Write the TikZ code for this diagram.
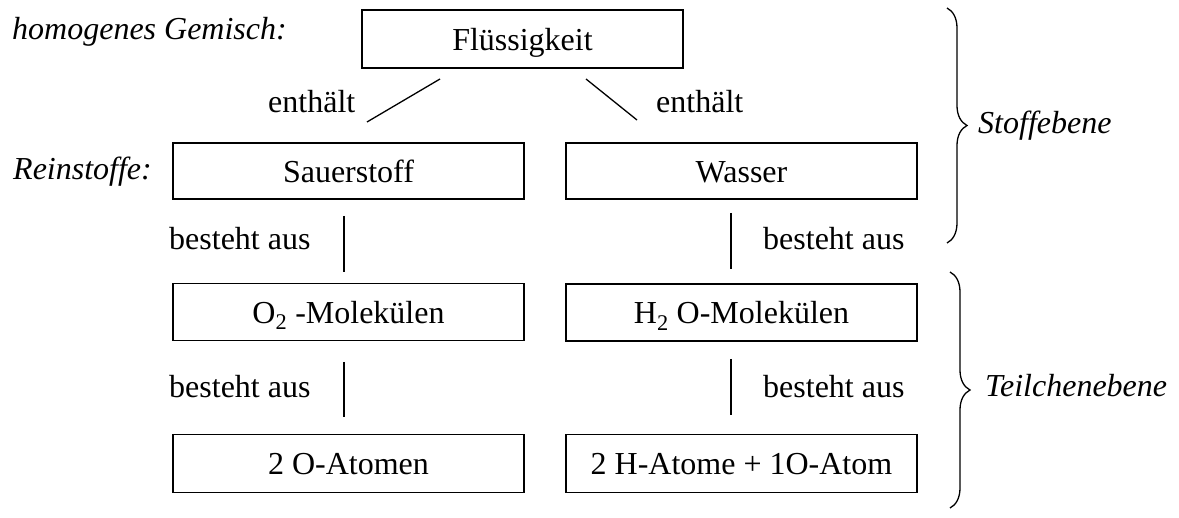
\documentclass[tikz,border=0pt]{standalone}
\usepackage{fontspec}
\setmainfont{Liberation Serif}
\usetikzlibrary{decorations.pathreplacing}
\begin{document}
\begin{tikzpicture}[x=1pt,y=-1pt,
  every node/.style={font=\fontsize{32}{38}\selectfont},
  box/.style={draw,line width=1.3pt,minimum width=351pt,minimum height=57pt,inner sep=0pt,text height=23pt,text depth=0pt},
  lbl/.style={inner sep=0pt,anchor=base west},
  ilbl/.style={inner sep=0pt,anchor=base west,font=\fontsize{32}{38}\selectfont\itshape},
  conn/.style={line width=1.3pt},
  brc/.style={line width=1.3pt,decorate,decoration={brace,amplitude=20pt,aspect=0.5}}]
\useasboundingbox (0,0) rectangle (1179,518);
% boxes
\node[box,minimum width=321pt,minimum height=58pt] (fl) at (522.5,39) {Flüssigkeit};
\node[box,minimum height=56pt] (sa) at (348.5,171) {Sauerstoff};
\node[box,minimum height=56pt] (wa) at (741.5,171) {Wasser};
\node[box] (om) at (348.5,312) {O\textsubscript{2} -Molekülen};
\node[box] (hm) at (741.5,312.5) {H\textsubscript{2} O-Molekülen};
\node[box,minimum height=58pt] (oa) at (348.5,463.5) {2 O-Atomen};
\node[box,minimum height=58pt] (ha) at (741.5,463.5) {2 H-Atome + 1O-Atom};
% side labels
\node[ilbl] (hg) at (12,40) {homogenes Gemisch:};
\node[ilbl] (rs) at (13,180) {Reinstoffe:};
\node[ilbl] (st) at (978,134) {Stoffebene};
\node[ilbl] (te) at (985,397) {Teilchenebene};
% connector labels
\node[lbl] (e1) at (268,113) {enthält};
\node[lbl] (e2) at (656,113) {enthält};
\node[lbl] (b1) at (169,250) {besteht aus};
\node[lbl] (b2) at (763,250) {besteht aus};
\node[lbl] (b3) at (169,398) {besteht aus};
\node[lbl] (b4) at (763,398) {besteht aus};
% connector end points
\coordinate (c1a) at (440,79);  \coordinate (c1b) at (367,122);
\coordinate (c2a) at (586,79);  \coordinate (c2b) at (637,120);
\coordinate (c3a) at (344,216); \coordinate (c3b) at (344,272);
\coordinate (c4a) at (731,213); \coordinate (c4b) at (731,269);
\coordinate (c5a) at (344,362); \coordinate (c5b) at (344,417);
\coordinate (c6a) at (731,359); \coordinate (c6b) at (731,415);
\draw[conn] (c1a) -- (c1b);
\draw[conn] (c2a) -- (c2b);
\draw[conn] (c3a) -- (c3b);
\draw[conn] (c4a) -- (c4b);
\draw[conn] (c5a) -- (c5b);
\draw[conn] (c6a) -- (c6b);
% braces
\coordinate (br1a) at (947,8);   \coordinate (br1b) at (947,243);
\coordinate (br2a) at (950,272); \coordinate (br2b) at (950,508);
\draw[brc] (br1a) -- (br1b);
\draw[brc] (br2a) -- (br2b);
\end{tikzpicture}
\end{document}
